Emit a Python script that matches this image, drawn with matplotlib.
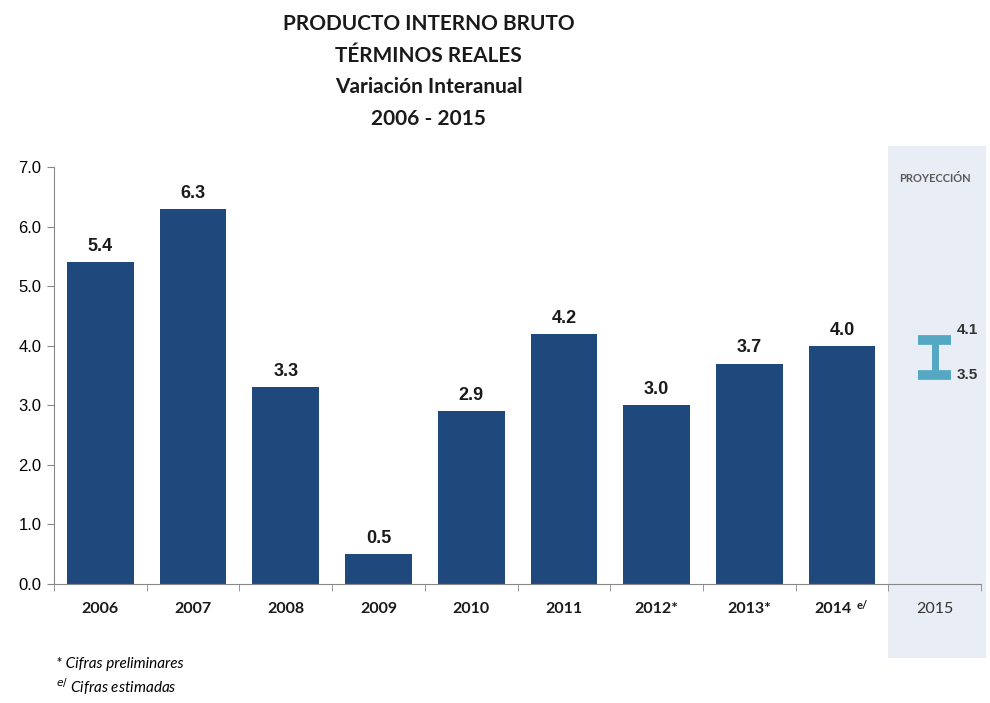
import numpy as np
import matplotlib.pyplot as plt
from matplotlib.patches import Rectangle

years = ['2006', '2007', '2008', '2009', '2010', '2011', '2012*', '2013*', '2014 e/', '2015']
pib = [5.4, 6.3, 3.3, 0.5, 2.9, 4.2, 3.0, 3.7, 4.0]
proy_low, proy_high = 3.5, 4.1
yticks = [0.0, 1.0, 2.0, 3.0, 4.0, 5.0, 6.0, 7.0]

bar_color = '#1f497d'
proy_color = '#55a8c4'
shade = '#e8edf6'

fig = plt.figure(figsize=(9.9, 7.03), dpi=100)
ax = fig.add_axes([0.0545, 0.1693, 0.9365, 0.5932])

x = np.arange(len(years))
ax.set_xlim(-0.5, len(years) - 0.5)
ax.set_ylim(0, 7)

# zona de proyeccion (se extiende fuera de los ejes)
ax.add_patch(Rectangle((8.5, -1.25), 1.05, 8.6, facecolor=shade, edgecolor='none',
                       clip_on=False, zorder=0))
ax.text(9.0, 6.8, 'PROYECCIÓN', ha='center', va='center', fontsize=8, fontweight='bold',
        color='#595959', family='Lato')

ax.bar(x[:len(pib)], pib, width=0.72, color=bar_color, zorder=2)
for xi, v in zip(x, pib):
    ax.text(xi, v + 0.12, f'{v:.1f}', ha='center', va='bottom', fontsize=13,
            fontweight='bold', family='Liberation Sans', color='#1a1a1a')

# rango proyectado 2015
ax.vlines(9.0, proy_low, proy_high, color=proy_color, lw=5, zorder=3)
ax.hlines([proy_low, proy_high], 8.82, 9.18, color=proy_color, lw=7, zorder=3)
ax.text(9.24, proy_high + 0.05, f'{proy_high:.1f}', ha='left', va='bottom', fontsize=11,
        fontweight='bold', family='Liberation Sans', color='#333333')
ax.text(9.24, proy_low, f'{proy_low:.1f}', ha='left', va='center', fontsize=11,
        fontweight='bold', family='Liberation Sans', color='#333333')

ax.set_yticks(yticks)
ax.set_yticklabels([f'{t:.1f}' for t in yticks], family='Liberation Sans', fontsize=12)
ax.set_xticks(x)
ax.set_xticklabels([])
for xi, lab in zip(x, years):
    if lab.endswith('e/'):
        ax.text(xi - 0.1, -0.3, lab[:-3], ha='center', va='top', fontsize=11.5,
                fontweight='bold', family='Lato', color='#1a1a1a')
        ax.text(xi + 0.16, -0.27, 'e/', ha='left', va='top', fontsize=8,
                fontweight='bold', family='Lato', color='#1a1a1a')
    elif lab == '2015':
        ax.text(xi, -0.3, lab, ha='center', va='top', fontsize=11.5,
                family='Lato', color='#333333')
    else:
        ax.text(xi, -0.3, lab, ha='center', va='top', fontsize=11.5,
                fontweight='bold', family='Lato', color='#1a1a1a')
ax.set_xticks(np.arange(-0.5, len(years)), minor=True)
ax.tick_params(axis='x', which='major', length=0)
ax.tick_params(axis='x', which='minor', length=5, direction='out', color='#888888')
ax.tick_params(axis='y', length=5, color='#888888', pad=4)

for s in ['top', 'right']:
    ax.spines[s].set_visible(False)
ax.spines['left'].set_color('#888888')
ax.spines['bottom'].set_color('#888888')

titulo = 'PRODUCTO INTERNO BRUTO\nTÉRMINOS REALES\nVariación Interanual\n2006 - 2015'
fig.text(0.433, 0.98, titulo, ha='center', va='top', fontsize=15, fontweight='bold',
         family='Lato', linespacing=1.72, color='#1a1a1a')

fig.text(0.057, 0.05, '* Cifras preliminares', fontsize=11, style='italic', family='Lato')
fig.text(0.057, 0.014, '$^{e/}$ Cifras estimadas', fontsize=11, style='italic', family='Lato')

fig.savefig('out.png', dpi=100)
